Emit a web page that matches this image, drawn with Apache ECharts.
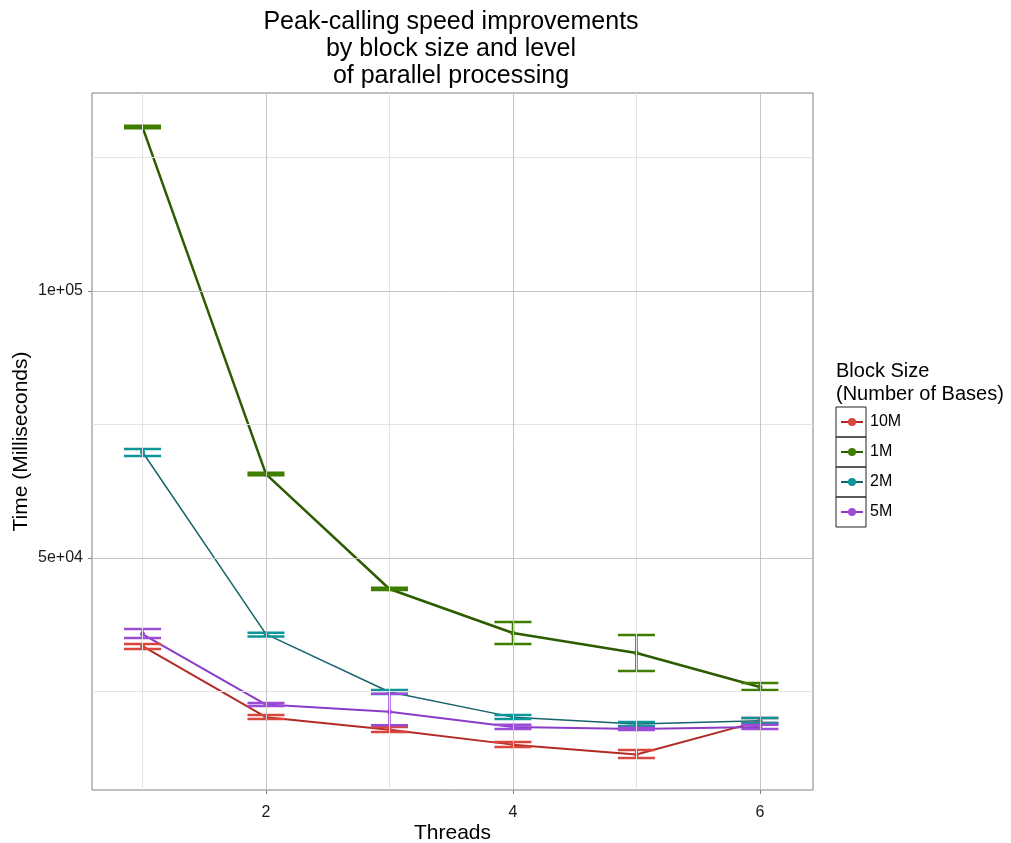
<!DOCTYPE html>
<html><head><meta charset="utf-8">
<script src="https://cdn.jsdelivr.net/npm/echarts@6/dist/echarts.min.js"></script>
<style>html,body{margin:0;padding:0;background:#fff}#c{width:1011px;height:843px}</style>
</head><body><div id="c"></div>
<script>
const threads = [1, 2, 3, 4, 5, 6];
const seriesNames = ['10M', '1M', '2M', '5M'];
const yTickValues = [50000, 100000];
const yTickLabels = ['5e+04', '1e+05'];
const xTickValues = [2, 4, 6];
const yGridMajor = [50000, 100000];
const yGridMinor = [25000, 75000, 125000];
const xGridMajor = [2, 4, 6];
const xGridMinor = [1, 3, 5];

const mean10M = [33500, 20200, 17850, 15050, 13200, 19450];
const low10M  = [32950, 19850, 17400, 14600, 12550, 19100];
const high10M = [33900, 20600, 18350, 15550, 14050, 20050];

const mean1M = [130700, 65700, 44200, 35950, 32200, 25850];
const low1M  = [130500, 65500, 44000, 33900, 28850, 25300];
const high1M = [130950, 65950, 44450, 38000, 35600, 26600];

const mean2M = [69850, 35750, 24900, 20200, 18900, 19500];
const low2M  = [69100, 35300, 24550, 19850, 18550, 19100];
const high2M = [70400, 36000, 25300, 20600, 19300, 20050];

const mean5M = [35750, 22550, 21200, 18350, 17980, 18350];
const low5M  = [35000, 22300, 18700, 17980, 17800, 17980];
const high5M = [36700, 22850, 24600, 18750, 18200, 18750];

const lineColors = ['#b22b25', '#2c5c00', '#17636b', '#8a3cc6'];
const barColors  = ['#d9463e', '#3f7d00', '#0e9499', '#9c4bd6'];
const lineWidths = [2, 2.5, 1.5, 2];

const means = [mean10M, mean1M, mean2M, mean5M];
const lows = [low10M, low1M, low2M, low5M];
const highs = [high10M, high1M, high2M, high5M];

const font = 'Liberation Sans, Arial, sans-serif';
const chart = echarts.init(document.getElementById('c'));

const series = [];
const ml = (arr, key, color) => arr.map(v => ({[key]: v, lineStyle: {color: color, width: 1, type: 'solid'}}));
series.push({
  type: 'line', data: [], silent: true, z: 0, legendHoverLink: false,
  markLine: {
    silent: true, symbol: 'none', label: {show: false}, animation: false,
    data: [].concat(
      ml(yGridMinor, 'yAxis', '#e3e3e3'), ml(xGridMinor, 'xAxis', '#e3e3e3'),
      ml(yGridMajor, 'yAxis', '#c4c4c4'), ml(xGridMajor, 'xAxis', '#c4c4c4'))
  }
});

seriesNames.forEach((name, i) => {
  series.push({
    name: name, type: 'line', z: 3,
    data: threads.map((t, j) => [t, means[i][j]]),
    symbol: 'circle', symbolSize: 5, showSymbol: true,
    itemStyle: {color: barColors[i]},
    lineStyle: {color: lineColors[i], width: lineWidths[i]},
    emphasis: {disabled: true}, animation: false
  });
  series.push({
    name: name, type: 'custom', z: 4,
    data: threads.map((t, j) => [t, lows[i][j], highs[i][j]]),
    renderItem: function (params, api) {
      const x = api.value(0);
      const lo = api.coord([x, api.value(1)]);
      const hi = api.coord([x, api.value(2)]);
      const half = api.size([0.15, 0])[0];
      const style = {stroke: barColors[i], lineWidth: 2.5, fill: null};
      return {type: 'group', children: [
        {type: 'line', shape: {x1: lo[0], y1: lo[1], x2: hi[0], y2: hi[1]}, style: style},
        {type: 'line', shape: {x1: lo[0] - half, y1: lo[1], x2: lo[0] + half, y2: lo[1]}, style: style},
        {type: 'line', shape: {x1: hi[0] - half, y1: hi[1], x2: hi[0] + half, y2: hi[1]}, style: style}
      ]};
    },
    animation: false
  });
});

chart.setOption({
  backgroundColor: '#fff',
  animation: false,
  title: {
    text: 'Peak-calling speed improvements\nby block size and level\nof parallel processing',
    left: 446, top: 4, textAlign: 'center',
    textStyle: {fontFamily: font, fontSize: 25, fontWeight: 'normal', color: '#000', lineHeight: 27}
  },
  legend: {
    data: seriesNames, orient: 'vertical', left: 840, top: 412, padding: 0,
    itemWidth: 22, itemHeight: 10, itemGap: 10,
    textStyle: {fontFamily: font, fontSize: 16, color: '#000', lineHeight: 20, height: 20, padding: [0, 0, 0, 2]},
    selectedMode: false
  },
  graphic: [
    {type: 'text', left: 836, top: 360, style: {text: 'Block Size\n(Number of Bases)', font: '20px ' + font, fill: '#000', lineHeight: 23}},
    {type: 'rect', shape: {x: 836, y: 407, width: 30, height: 30}, style: {fill: null, stroke: '#222', lineWidth: 1}},
    {type: 'rect', shape: {x: 836, y: 437, width: 30, height: 30}, style: {fill: null, stroke: '#222', lineWidth: 1}},
    {type: 'rect', shape: {x: 836, y: 467, width: 30, height: 30}, style: {fill: null, stroke: '#222', lineWidth: 1}},
    {type: 'rect', shape: {x: 836, y: 497, width: 30, height: 30}, style: {fill: null, stroke: '#222', lineWidth: 1}}
  ],
  grid: {left: 92, top: 93, right: 198, bottom: 53, show: true, borderColor: '#808080', borderWidth: 1,
    backgroundColor: 'transparent', containLabel: false, outerBoundsMode: 'none'},
  xAxis: {
    type: 'value', min: 0.591, max: 6.43,
    name: 'Threads', nameLocation: 'middle', nameGap: 33, nameMoveOverlap: false,
    nameTextStyle: {fontFamily: font, fontSize: 21, color: '#000'},
    axisLine: {show: false},
    axisTick: {show: true, customValues: xTickValues, length: 4, lineStyle: {color: '#808080'}},
    axisLabel: {customValues: xTickValues, fontFamily: font, fontSize: 16, color: '#1a1a1a', margin: 15},
    splitLine: {show: false}
  },
  yAxis: {
    type: 'value', min: 6554, max: 137079,
    name: 'Time (Milliseconds)', nameLocation: 'middle', nameGap: 60, nameMoveOverlap: false,
    nameTextStyle: {fontFamily: font, fontSize: 21, color: '#000'},
    axisLine: {show: false},
    axisTick: {show: true, customValues: yTickValues, length: 4, lineStyle: {color: '#808080'}},
    axisLabel: {customValues: yTickValues, fontFamily: font, fontSize: 16, color: '#1a1a1a', margin: 9,
      formatter: v => yTickLabels[yTickValues.indexOf(v)] || ''},
    splitLine: {show: false}
  },
  series: series
});
</script></body></html>
